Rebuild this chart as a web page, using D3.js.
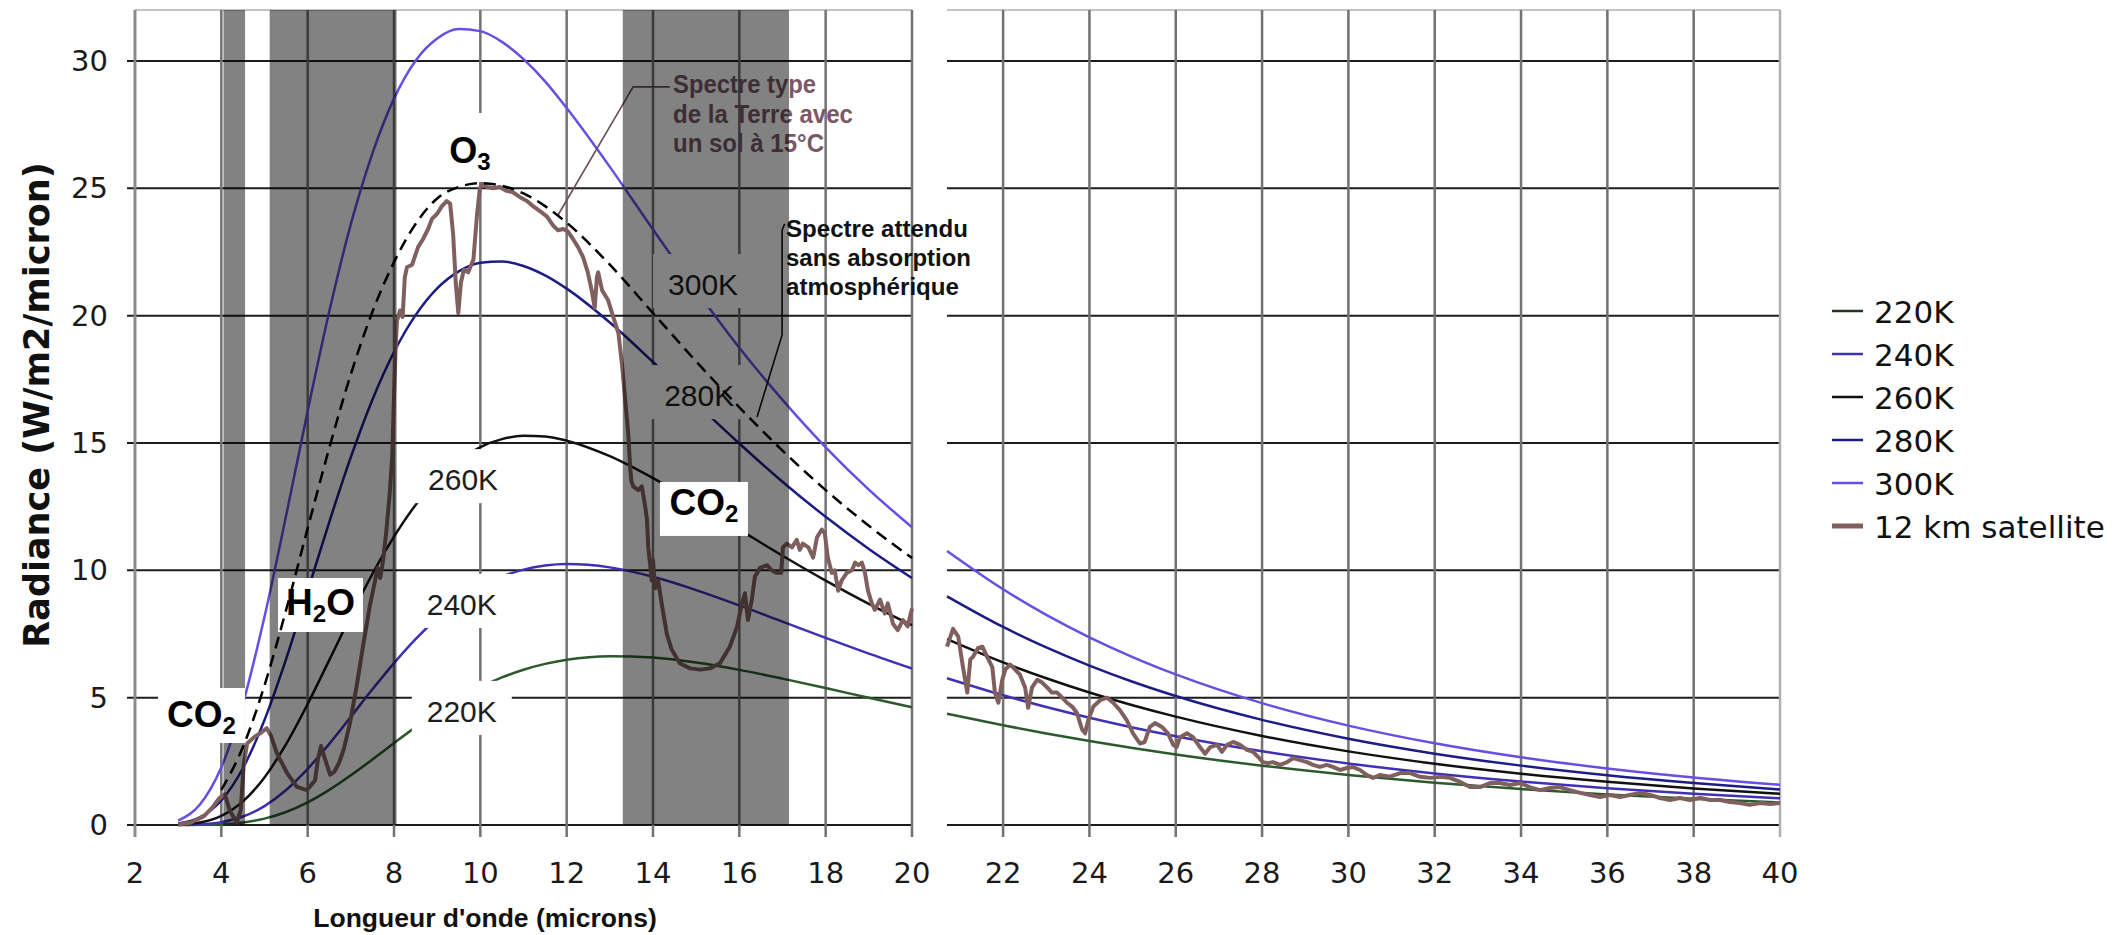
<!DOCTYPE html>
<html>
<head>
<meta charset="utf-8">
<title>Radiance</title>
<script src="https://cdn.jsdelivr.net/npm/d3@7"></script>
<style>
  body { margin: 0; background: #fff; }
  svg { display: block; }
</style>
</head>
<body>
<svg id="chart" width="2115" height="935"></svg>
<script>
// wavelengths (microns) where the blackbody curves were read
const wlLeft  = [3, 3.5, 4, 4.5, 5, 5.5, 6, 6.5, 7, 7.5, 8, 8.5, 9, 9.5, 10, 10.5, 11, 11.5, 12, 13, 14, 15, 16, 17, 18, 19, 20];
const wlRight = [20.7, 22, 23, 24, 25, 26, 28, 30, 32, 34, 36, 38, 40];

// radiance (W/m2/micron) of each blackbody curve
const rad220L = [0.001, 0.005, 0.029, 0.099, 0.25, 0.509, 0.888, 1.377, 1.95, 2.575, 3.217, 3.843, 4.429, 4.956, 5.413, 5.794, 6.098, 6.327, 6.489, 6.628, 6.573, 6.378, 6.091, 5.747, 5.376, 4.995, 4.62];
const rad220R = [4.37, 3.915, 3.594, 3.296, 3.022, 2.769, 2.329, 1.963, 1.66, 1.409, 1.201, 1.029, 0.885];
const rad240L = [0.003, 0.026, 0.113, 0.332, 0.743, 1.372, 2.203, 3.185, 4.25, 5.328, 6.358, 7.3, 8.12, 8.803, 9.345, 9.749, 10.026, 10.186, 10.245, 10.115, 9.744, 9.224, 8.622, 7.985, 7.347, 6.728, 6.143];
const rad240R = [5.76, 5.093, 4.632, 4.212, 3.832, 3.487, 2.896, 2.415, 2.024, 1.705, 1.443, 1.229, 1.051];
const rad260L = [0.015, 0.097, 0.359, 0.926, 1.869, 3.174, 4.752, 6.475, 8.211, 9.856, 11.32, 12.566, 13.566, 14.32, 14.84, 15.15, 15.28, 15.25, 15.09, 14.48, 13.62, 12.63, 11.6, 10.573, 9.597, 8.684, 7.843];
const rad260R = [7.3, 6.385, 5.762, 5.203, 4.703, 4.255, 3.497, 2.891, 2.405, 2.013, 1.695, 1.435, 1.223];
const rad280L = [0.056, 0.3, 0.963, 2.227, 4.121, 6.511, 9.186, 11.895, 14.444, 16.7, 18.57, 20.02, 21.07, 21.74, 22.08, 22.13, 21.95, 21.58, 21.06, 19.73, 18.18, 16.56, 14.98, 13.48, 12.1, 10.84, 9.698];
const rad280R = [8.98, 7.776, 6.972, 6.259, 5.626, 5.066, 4.129, 3.388, 2.801, 2.331, 1.953, 1.648, 1.398];
const rad300L = [0.176, 0.797, 2.268, 4.768, 8.175, 12.142, 16.26, 20.16, 23.59, 26.37, 28.52, 30.01, 30.88, 31.25, 31.17, 30.75, 30.07, 29.2, 28.15, 25.84, 23.38, 21.0, 18.74, 16.69, 14.83, 13.17, 11.69];
const rad300R = [10.76, 9.254, 8.251, 7.37, 6.595, 5.913, 4.784, 3.902, 3.208, 2.658, 2.219, 1.864, 1.577];

// expected spectrum without atmospheric absorption (dashed)
const wlDash  = [4, 4.5, 5, 5.5, 6, 6.5, 7, 7.5, 8, 8.5, 9, 9.5, 10, 10.5, 11, 11.5, 12, 13, 14, 15, 16, 17, 18, 19, 20];
const radDash = [1.38, 3.06, 5.48, 8.44, 11.65, 14.8, 17.7, 20.15, 22.1, 23.6, 24.6, 25.05, 25.2, 25.1, 24.8, 24.3, 23.65, 22.0, 20.1, 18.2, 16.4, 14.7, 13.15, 11.75, 10.48];

// 12 km satellite spectrum [wavelength, radiance]
const satLeft = [[3.0,0.02],[3.3,0.1],[3.6,0.35],[3.8,0.7],[3.95,1.05],[4.08,1.2],[4.2,0.55],[4.36,0.1],[4.45,0.6],[4.52,2.4],[4.6,3.2],[4.76,3.45],[4.9,3.6],[5.05,3.8],[5.15,3.5],[5.29,2.8],[5.52,2.05],[5.75,1.5],[5.98,1.37],[6.17,1.75],[6.24,2.6],[6.31,3.1],[6.4,2.6],[6.52,1.98],[6.62,2.1],[6.73,2.45],[6.84,3.0],[6.98,4.0],[7.14,5.5],[7.28,7.0],[7.44,8.6],[7.55,9.5],[7.62,10.1],[7.68,9.7],[7.74,10.3],[7.82,11.5],[7.9,13.0],[7.96,14.5],[8.0,16.8],[8.04,18.8],[8.07,19.8],[8.14,20.2],[8.2,19.95],[8.25,21.5],[8.3,21.9],[8.42,22.0],[8.56,22.7],[8.67,23.0],[8.79,23.4],[8.88,23.8],[9.0,24.0],[9.11,24.3],[9.22,24.5],[9.3,24.4],[9.37,23.2],[9.43,21.3],[9.49,20.1],[9.55,21.3],[9.62,21.8],[9.72,21.7],[9.84,22.2],[9.92,23.9],[9.99,25.0],[10.04,25.2],[10.15,25.05],[10.3,25.0],[10.45,25.05],[10.6,24.9],[10.75,24.85],[10.92,24.65],[11.08,24.5],[11.22,24.3],[11.38,24.1],[11.54,23.9],[11.68,23.55],[11.8,23.35],[11.92,23.4],[12.03,23.3],[12.15,23.0],[12.26,22.7],[12.38,22.3],[12.49,21.7],[12.59,20.9],[12.65,20.3],[12.7,21.5],[12.73,21.7],[12.82,21.0],[12.96,20.6],[13.07,20.0],[13.2,19.3],[13.28,18.1],[13.35,16.8],[13.43,15.3],[13.47,14.05],[13.5,13.5],[13.54,13.3],[13.66,13.15],[13.74,13.3],[13.82,12.5],[13.86,12.0],[13.89,10.9],[13.93,10.3],[13.97,9.6],[14.0,10.4],[14.05,9.3],[14.12,9.6],[14.2,8.7],[14.32,7.5],[14.43,6.9],[14.62,6.35],[14.86,6.15],[15.09,6.1],[15.32,6.15],[15.55,6.35],[15.78,7.0],[15.95,7.8],[16.06,8.7],[16.13,9.1],[16.2,8.05],[16.29,8.85],[16.36,9.75],[16.48,10.1],[16.64,10.2],[16.75,10.0],[16.87,9.9],[16.97,9.9],[17.01,10.9],[17.1,11.05],[17.22,10.9],[17.33,11.2],[17.4,10.8],[17.47,11.05],[17.6,10.9],[17.71,10.5],[17.8,11.3],[17.91,11.6],[17.98,11.45],[18.05,10.5],[18.14,9.9],[18.21,10.0],[18.29,9.2],[18.37,9.6],[18.49,9.9],[18.61,10.0],[18.68,10.3],[18.76,10.2],[18.84,10.3],[18.91,9.9],[18.98,9.2],[19.07,8.7],[19.14,8.45],[19.26,8.85],[19.37,8.3],[19.44,8.7],[19.56,7.9],[19.67,7.65],[19.79,8.05],[19.9,7.8],[20.0,8.5]];
const satRight = [[20.7,7.0],[20.84,7.7],[20.96,7.4],[21.07,6.2],[21.17,5.2],[21.24,6.5],[21.3,6.6],[21.42,6.95],[21.52,7.0],[21.63,6.6],[21.75,6.2],[21.81,5.2],[21.89,4.8],[21.98,5.7],[22.05,6.1],[22.16,6.3],[22.28,6.1],[22.39,5.9],[22.51,5.4],[22.58,4.6],[22.67,5.4],[22.79,5.7],[22.9,5.6],[23.02,5.4],[23.13,5.2],[23.25,5.2],[23.37,5.0],[23.48,4.8],[23.6,4.65],[23.71,4.4],[23.83,3.75],[23.9,3.6],[23.97,4.1],[24.09,4.65],[24.25,4.9],[24.41,5.0],[24.55,4.8],[24.71,4.5],[24.87,4.1],[25.01,3.6],[25.17,3.2],[25.28,3.26],[25.4,3.85],[25.52,4.0],[25.68,3.85],[25.82,3.6],[25.94,3.15],[26.02,3.06],[26.1,3.45],[26.26,3.6],[26.4,3.45],[26.56,3.06],[26.68,2.8],[26.8,3.06],[26.96,3.15],[27.07,2.87],[27.19,3.15],[27.33,3.26],[27.49,3.15],[27.65,2.95],[27.79,2.87],[27.91,2.67],[28.02,2.47],[28.14,2.43],[28.25,2.47],[28.42,2.36],[28.58,2.47],[28.72,2.63],[28.88,2.55],[29.04,2.47],[29.18,2.36],[29.34,2.28],[29.5,2.36],[29.64,2.28],[29.81,2.16],[29.97,2.24],[30.1,2.28],[30.27,2.16],[30.43,1.96],[30.57,1.85],[30.73,1.96],[30.96,1.9],[31.2,2.04],[31.43,2.04],[31.66,1.89],[31.9,1.85],[32.12,1.89],[32.35,1.85],[32.59,1.69],[32.82,1.49],[33.05,1.49],[33.28,1.65],[33.51,1.65],[33.74,1.57],[33.98,1.65],[34.2,1.49],[34.44,1.37],[34.67,1.45],[34.9,1.49],[35.13,1.37],[35.37,1.26],[35.6,1.18],[35.83,1.1],[36.06,1.18],[36.29,1.1],[36.52,1.18],[36.76,1.26],[36.99,1.18],[37.22,1.06],[37.45,0.98],[37.68,1.06],[37.91,0.98],[38.15,1.06],[38.38,0.98],[38.61,0.98],[38.84,0.9],[39.07,0.86],[39.3,0.79],[39.54,0.86],[39.77,0.82],[40.0,0.86]];

// absorption bands (microns)
const bands = [[4.05, 4.55], [5.12, 8.06], [13.3, 17.15]];

// tick labels
const yTickValues = [0, 5, 10, 15, 20, 25, 30];
const xTickLeft   = [2, 4, 6, 8, 10, 12, 14, 16, 18, 20];
const xTickRight  = [22, 24, 26, 28, 30, 32, 34, 36, 38, 40];

// curve labels on the chart [text, wavelength, radiance]
const tempLabels = [["300K", 15.16, 21.24], ["280K", 15.07, 16.88], ["260K", 9.6, 13.58], ["240K", 9.57, 8.68], ["220K", 9.57, 4.48]];

const series = [
    { name: "220K", color: "#2c5a2c", left: rad220L, right: rad220R },
    { name: "240K", color: "#4030b6", left: rad240L, right: rad240R },
    { name: "260K", color: "#111111", left: rad260L, right: rad260R },
    { name: "280K", color: "#1c1c86", left: rad280L, right: rad280R },
    { name: "300K", color: "#6a4de2", left: rad300L, right: rad300R }
];
const satColor = "#80605f";

const svg = d3.select("#chart");

const y  = d3.scaleLinear().domain([0, 32]).range([825, 10]);
const xL = d3.scaleLinear().domain([2, 20]).range([135, 912]);
const xR = d3.scaleLinear().domain([20.7, 40]).range([947, 1780]);

// grid
const grid = svg.append("g");
[[xL, xTickLeft], [xR, xTickRight]].forEach(function(p){
    var sc = p[0], r = sc.range();
    grid.selectAll(null).data(yTickValues).enter().append("line")
        .attr("x1", sc === xL ? r[0] - 8 : r[0]).attr("x2", r[1])
        .attr("y1", d => y(d)).attr("y2", d => y(d))
        .attr("stroke", "#1c1c1c").attr("stroke-width", 2);
    grid.append("line").attr("x1", r[0]).attr("x2", r[1]).attr("y1", y(32)).attr("y2", y(32))
        .attr("stroke", "#c4c4c4").attr("stroke-width", 2);
    grid.selectAll(null).data(p[1]).enter().append("line")
        .attr("x1", d => sc(d)).attr("x2", d => sc(d))
        .attr("y1", y(32)).attr("y2", y(0) + 12)
        .attr("stroke", d => d === 40 ? "#b0b0b0" : "#727272").attr("stroke-width", 2.5);
});
grid.append("line").attr("x1", xL(2)).attr("x2", xL(2)).attr("y1", y(32)).attr("y2", y(0) + 12)
    .attr("stroke", "#8a8a8a").attr("stroke-width", 2.5);

// tick labels
const tickFont = "'DejaVu Sans', Verdana, sans-serif";
svg.append("g").selectAll("text").data(yTickValues).enter().append("text")
    .attr("x", 108).attr("y", d => y(d) + 10)
    .attr("text-anchor", "end").attr("font-family", tickFont).attr("font-size", 29)
    .attr("fill", "#1a1a1a").text(d => d);
[[xL, xTickLeft], [xR, xTickRight]].forEach(function(p){
    svg.append("g").selectAll("text").data(p[1]).enter().append("text")
        .attr("x", d => p[0](d)).attr("y", 883)
        .attr("text-anchor", "middle").attr("font-family", tickFont).attr("font-size", 29)
        .attr("fill", "#1a1a1a").text(d => d);
});

// blackbody curves
const lineL = d3.line().x(d => xL(d[0])).y(d => y(d[1])).curve(d3.curveMonotoneX);
const lineR = d3.line().x(d => xR(d[0])).y(d => y(d[1])).curve(d3.curveMonotoneX);
const curves = svg.append("g").attr("fill", "none");
series.forEach(function(s){
    curves.append("path").attr("d", lineL(d3.zip(wlLeft, s.left)))
        .attr("stroke", s.color).attr("stroke-width", 2.5);
    curves.append("path").attr("d", lineR(d3.zip(wlRight, s.right)))
        .attr("stroke", s.color).attr("stroke-width", 2.5);
});

// satellite spectrum
const satL = d3.line().x(d => xL(d[0])).y(d => y(d[1]));
const satR = d3.line().x(d => xR(d[0])).y(d => y(d[1]));
[satL(satLeft), satR(satRight)].forEach(function(d){
    curves.append("path").attr("d", d).attr("stroke", satColor).attr("stroke-width", 4)
        .attr("stroke-linejoin", "round");
});

// temperature labels with white boxes
const tl = svg.append("g");
tempLabels.forEach(function(l){
    var cx = xL(l[1]), cy = y(l[2]);
    tl.append("rect").attr("x", cx - 50).attr("y", cy - 30).attr("width", 100).attr("height", 54)
        .attr("fill", "#fff");
    tl.append("text").attr("x", cx).attr("y", cy + 11).attr("text-anchor", "middle")
        .attr("font-family", "'Liberation Sans', Arial, sans-serif").attr("font-size", 30)
        .attr("fill", "#1e1e1e").text(l[0]);
});

// annotations
const ann = svg.append("g");
const typeLines = [["Spectre type", 143], ["de la Terre avec", 180], ["un sol à 15°C", 151]];
typeLines.forEach(function(t, i){
    ann.append("text").attr("x", 673).attr("y", 93 + i * 29.5)
        .attr("font-family", "'Liberation Sans', Arial, sans-serif").attr("font-weight", "bold")
        .attr("font-size", 25).attr("fill", "#7a5868")
        .attr("textLength", t[1]).attr("lengthAdjust", "spacingAndGlyphs").text(t[0]);
});
ann.append("path")
    .attr("d", d3.line()([[xL(14.39), y(28.98)], [xL(13.54), y(28.98)], [xL(11.8), y(23.95)]]))
    .attr("fill", "none").attr("stroke", "#6a5058").attr("stroke-width", 1.6);

const attLines = [["Spectre attendu", 182], ["sans absorption", 185], ["atmosphérique", 173]];
attLines.forEach(function(t, i){
    ann.append("text").attr("x", 786).attr("y", 237 + i * 29)
        .attr("font-family", "'Liberation Sans', Arial, sans-serif").attr("font-weight", "bold")
        .attr("font-size", 23).attr("fill", "#111")
        .attr("textLength", t[1]).attr("lengthAdjust", "spacingAndGlyphs").text(t[0]);
});
ann.append("path")
    .attr("d", d3.line()([[xL(17.05), y(23.6)], [xL(16.99), y(23.36)], [xL(16.99), y(19.24)], [xL(16.41), y(16.02)]]))
    .attr("fill", "none").attr("stroke", "#111").attr("stroke-width", 1.6);

// absorption bands, darkening what is under them
svg.append("g").selectAll("rect").data(bands).enter().append("rect")
    .attr("x", d => xL(d[0])).attr("width", d => xL(d[1]) - xL(d[0]))
    .attr("y", y(32)).attr("height", y(0) - y(32))
    .attr("fill", "#000").attr("fill-opacity", 0.49);

// molecule labels
const chemLabels = [
    { parts: ["O", "3", ""],  x: 9.76,  v: 26.6,  w: 66, h: 69, dy: 15, size: 36 },
    { parts: ["H", "2", "O"], x: 6.297, v: 8.638, w: 85, h: 54, dy: 10, size: 37 },
    { parts: ["CO", "2", ""], x: 3.54,  v: 4.299, w: 87, h: 55, dy: 11, size: 37 },
    { parts: ["CO", "2", ""], x: 15.18, v: 12.41, w: 88, h: 54, dy: 6,  size: 37 }
];
const cl = svg.append("g");
chemLabels.forEach(function(c){
    var cx = xL(c.x), cy = y(c.v);
    cl.append("rect").attr("x", cx - c.w / 2).attr("y", cy - c.h / 2)
        .attr("width", c.w).attr("height", c.h).attr("fill", "#fff");
    var t = cl.append("text").attr("x", cx).attr("y", cy + c.dy).attr("text-anchor", "middle")
        .attr("font-family", "'Liberation Sans', Arial, sans-serif").attr("font-weight", "bold")
        .attr("font-size", c.size).attr("fill", "#000");
    t.append("tspan").text(c.parts[0]);
    t.append("tspan").attr("font-size", 24).attr("dy", 7).text(c.parts[1]);
    if (c.parts[2]) t.append("tspan").attr("dy", -7).text(c.parts[2]);
});

// dashed expected spectrum
svg.append("path").attr("d", lineL(d3.zip(wlDash, radDash)))
    .attr("fill", "none").attr("stroke", "#000").attr("stroke-width", 2.5)
    .attr("stroke-dasharray", "12,7");

// axis titles
svg.append("text").attr("x", 485).attr("y", 927).attr("text-anchor", "middle")
    .attr("font-family", "'Liberation Sans', Arial, sans-serif").attr("font-weight", "bold")
    .attr("font-size", 26.5).attr("fill", "#111").text("Longueur d'onde (microns)");
svg.append("text").attr("transform", "translate(49,405) rotate(-90)").attr("text-anchor", "middle")
    .attr("font-family", "'DejaVu Sans', Verdana, sans-serif").attr("font-weight", "bold")
    .attr("font-size", 35).attr("fill", "#111").text("Radiance (W/m2/micron)");

// legend
const legendItems = series.map(s => ({ name: s.name, color: s.color, w: 2.5 }))
    .concat([{ name: "12 km satellite", color: satColor, w: 5 }]);
legendItems[0].color = "#1e3a1e";
const lg = svg.append("g").selectAll("g").data(legendItems).enter().append("g")
    .attr("transform", (d, i) => "translate(0," + (311 + i * 43) + ")");
lg.append("line").attr("x1", 1832).attr("x2", 1863).attr("stroke", d => d.color).attr("stroke-width", d => d.w);
lg.append("text").attr("x", 1874).attr("y", 11.5)
    .attr("font-family", tickFont).attr("font-size", 31).attr("fill", "#111").text(d => d.name);
</script>
</body>
</html>
